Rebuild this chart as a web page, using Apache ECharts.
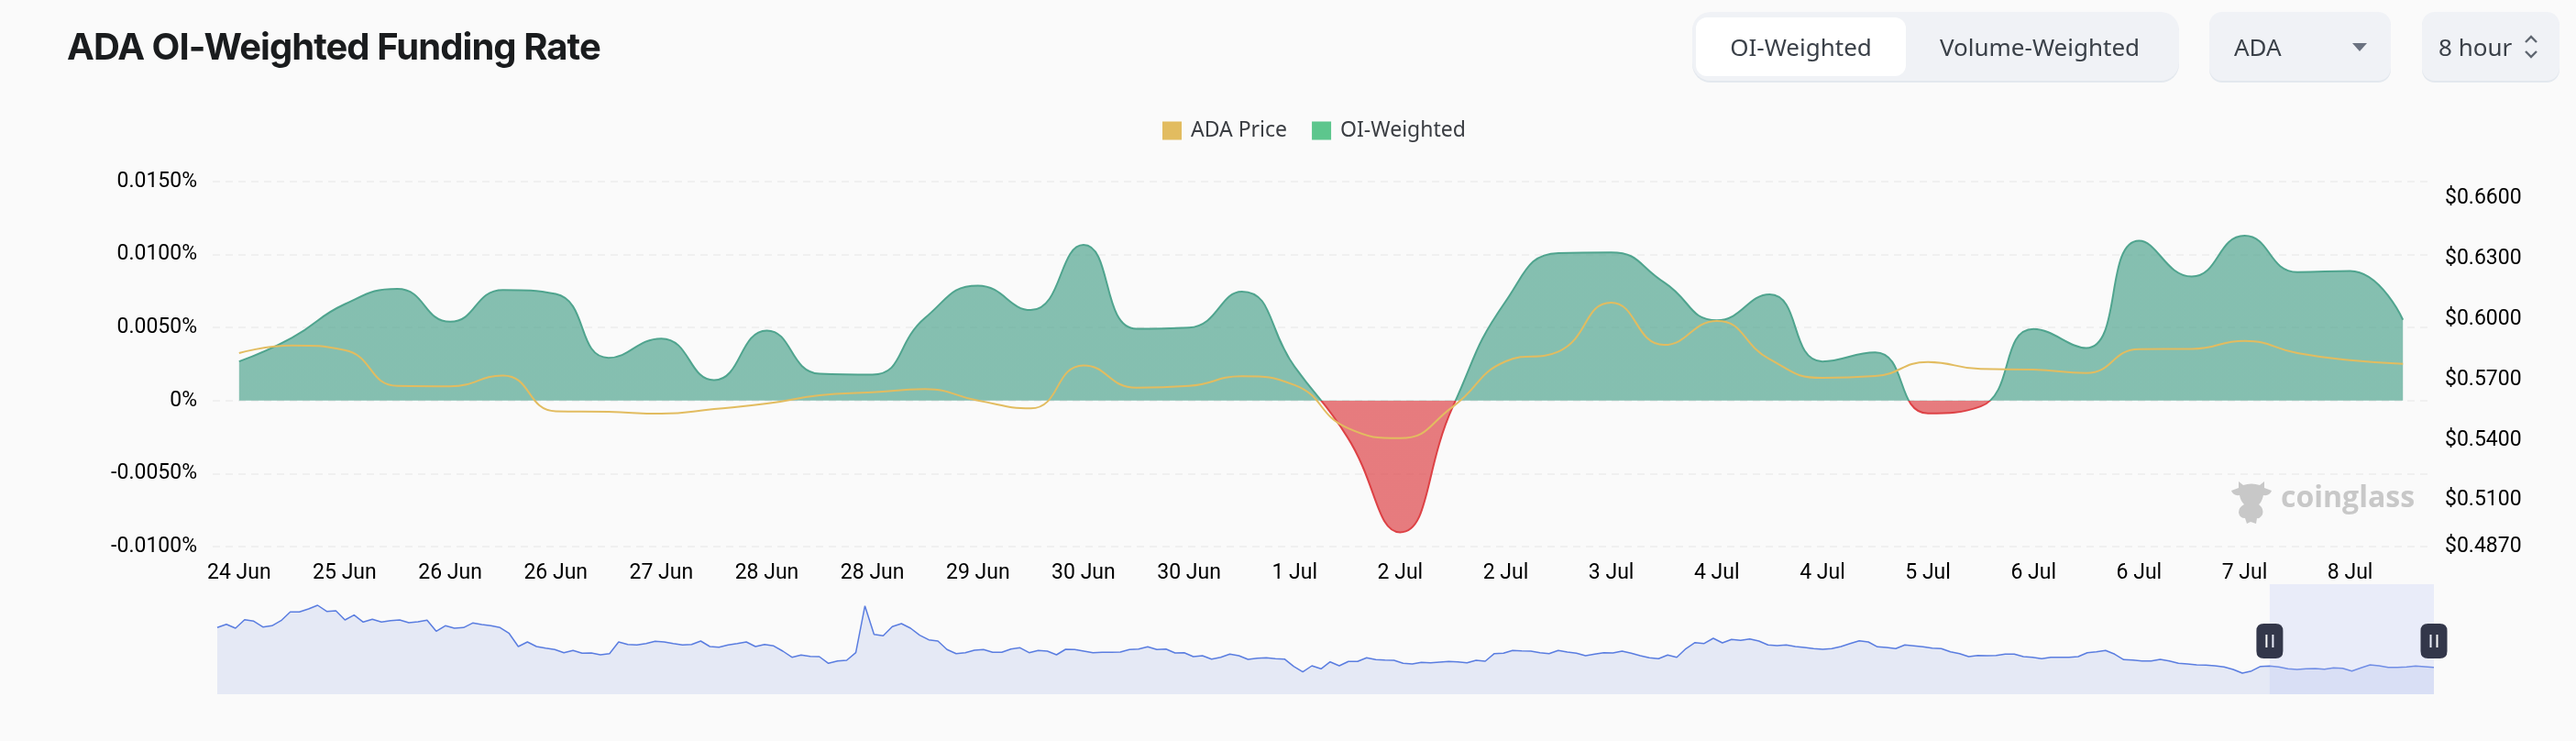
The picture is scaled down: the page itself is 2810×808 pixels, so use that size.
<!DOCTYPE html>
<html>
<head>
<meta charset="utf-8">
<title>ADA OI-Weighted Funding Rate</title>
<script src="https://cdn.jsdelivr.net/npm/echarts@6/dist/echarts.min.js"></script>
<style>
    html, body { margin: 0; padding: 0; background: #fafafa; }
    #page { position: relative; width: 2810px; height: 808px; overflow: hidden; }
    #chart { position: absolute; left: 0; top: 0; width: 2810px; height: 808px; }
    #title { position: absolute; left: 73px; top: 27px; font: 700 40px Inter, sans-serif; letter-spacing: -0.95px; line-height: 48px; color: #1a1c1e; white-space: nowrap; }
    .ctl { position: absolute; box-sizing: border-box; font-family: "Noto Sans", sans-serif; font-size: 26px; color: #3a4048; line-height: 38px; white-space: nowrap; }
    .box { background: #f0f2f6; top: 13px; height: 75px; border-radius: 14px; box-shadow: 0 2px 0 #e3e8ee; }
</style>
</head>
<body>
<div id="page">
    <div id="chart"></div>
    <div id="title">ADA OI-Weighted Funding Rate</div>
    <div class="ctl box" style="left:1846px;width:531px;border-radius:20px"></div>
    <div class="ctl" style="left:1850px;top:19px;width:229px;height:64px;background:#fff;border-radius:12px"></div>
    <div class="ctl" style="left:1850px;top:32px;width:229px;text-align:center">OI-Weighted</div>
    <div class="ctl" style="left:2113px;top:32px;width:224px;text-align:center">Volume-Weighted</div>
    <div class="ctl box" style="left:2410px;width:198px"></div>
    <div class="ctl" style="left:2437px;top:32px">ADA</div>
    <div class="ctl" style="left:2566px;top:47px;width:0;height:0;border-left:8px solid transparent;border-right:8px solid transparent;border-top:9px solid #6b7280"></div>
    <div class="ctl box" style="left:2642px;width:150px"></div>
    <div class="ctl" style="left:2660px;top:32px">8 hour</div>
    <svg class="ctl" style="left:2752px;top:36px" width="18" height="30" viewBox="0 0 18 30"><path d="M3 10 L9 4 L15 10 M3 20 L9 26 L15 20" fill="none" stroke="#5f6670" stroke-width="2.4"/></svg>
    <svg class="ctl" style="left:2434px;top:521px" width="44" height="50" viewBox="0 0 44 50"><path d="M8 4 L13 8 Q22 5 31 8 L36 4 L36 11 L44 14 Q42 20 35 19 Q33 27 30 29 Q36 34 34 40 Q31 45 28 44 L27 50 L21 48 L17 50 L15 44 Q9 44 8 38 Q8 32 14 29 Q10 25 9 19 Q2 20 0 14 L8 11 Z" fill="#c8c8c8"/></svg>
</div>

<script>
const CATEGORIES = [
    '24 Jun', '25 Jun', '25 Jun', '25 Jun', '26 Jun', '26 Jun', '26 Jun', '27 Jun', '27 Jun', '27 Jun',
    '28 Jun', '28 Jun', '28 Jun', '29 Jun', '29 Jun', '29 Jun', '30 Jun', '30 Jun', '30 Jun', '1 Jul',
    '1 Jul', '1 Jul', '2 Jul', '2 Jul', '2 Jul', '3 Jul', '3 Jul', '3 Jul', '4 Jul', '4 Jul',
    '4 Jul', '5 Jul', '5 Jul', '5 Jul', '6 Jul', '6 Jul', '6 Jul', '7 Jul', '7 Jul', '7 Jul',
    '8 Jul', '8 Jul'
];

// percent, 8 hour funding
const OI_WEIGHTED = [
    0.00268, 0.0043, 0.0066, 0.00765, 0.0054, 0.00758, 0.0073, 0.00293, 0.00425, 0.0014,
    0.0048, 0.00184, 0.00178, 0.00567, 0.00787, 0.0062, 0.01066, 0.00492, 0.005, 0.00747,
    0.00232, -0.0025, -0.00902, -0.0004, 0.0068, 0.0101, 0.01015, 0.0081, 0.0055, 0.00727,
    0.00268, 0.0033, -0.00088, -0.0004, 0.0049, 0.0036, 0.01095, 0.0085, 0.01129, 0.0088,
    0.00888, 0.00553
];

const ADA_PRICE = [
    0.5832, 0.587, 0.5847, 0.5669, 0.5667, 0.5721, 0.5543, 0.554, 0.5531, 0.5554,
    0.5581, 0.5622, 0.5637, 0.5653, 0.5596, 0.5557, 0.5771, 0.566, 0.5669, 0.5717,
    0.5673, 0.546, 0.5409, 0.5566, 0.5791, 0.584, 0.6083, 0.5873, 0.5992, 0.5802,
    0.5709, 0.5718, 0.5788, 0.5753, 0.575, 0.5733, 0.5852, 0.5853, 0.5893, 0.5832,
    0.5797, 0.5779
];

const RATE_TICKS = { min: -0.01, max: 0.015, interval: 0.005 };
const PRICE_TICKS = [0.487, 0.51, 0.54, 0.57, 0.6, 0.63, 0.66];

// long history behind the range slider, relative height
const OVERVIEW = [
    72.7, 76.3, 72, 81.3, 79.7, 73.3, 74.7, 80.3, 89.7, 89.7, 93, 97, 90.3, 91, 81, 86.3, 78.7, 81.7, 78.7, 80.3,
    81, 78, 79, 80.7, 68.7, 74.7, 72, 72.7, 77.7, 76, 74.7, 72.7, 66.3, 52, 57, 52, 50.3, 48.7, 45.3, 47.7,
    44.7, 45, 43, 44.3, 57, 54.3, 53.7, 55.3, 57.7, 57, 55.3, 53.7, 54.3, 58, 52, 51.3, 53.7, 55.3, 57, 52,
    54.3, 52.7, 47, 40.3, 42.7, 41.3, 41, 33.7, 36.3, 37, 45.3, 96.3, 65.3, 63.7, 73.7, 77, 72, 64.3,
    59.3, 58, 48.7, 44.3, 45.3, 48, 48.7, 45.7, 45.7, 49.3, 50.7, 45.3, 47.7, 47, 43, 49, 48.7, 47, 45.3, 45.7,
    45.7, 46, 48.7, 49.3, 51.7, 48.7, 49.3, 45, 45.3, 41, 42, 38.3, 40.3, 43.7, 42, 38, 39.3, 39.7, 38.7, 38.3,
    30.3, 24.3, 31, 27.7, 35.3, 31, 35.7, 35.7, 39.7, 37.7, 37.3, 37, 33.7, 33, 34.7, 34.3, 35, 35.7, 35.3, 34.3,
    37, 36, 44.3, 44.7, 47.7, 47.3, 47, 45.3, 44.3, 47.7, 46, 44.7, 42, 43.7, 45.3, 45, 47, 44.7, 42,
    39.7, 38.7, 42.7, 40.3, 49.7, 56.3, 55.3, 61, 56, 59.7, 58.7, 60.3, 58, 53.7, 53, 53.7, 52, 51, 49.7, 49,
    49.7, 52, 55.3, 58.3, 57, 51.7, 51, 49.7, 53.7, 52.7, 51.7, 50.3, 49.7, 46.3, 44.3, 41, 42.3, 42, 42.3, 43.7,
    43.7, 41, 40.3, 38.7, 40.3, 40.3, 40.3, 41, 45.3, 46.3, 47.7, 43.7, 37.7, 37.3, 36.3, 36.3, 38, 36.3, 33.7, 33,
    32, 31.7, 31, 29.7, 27, 23, 25.3, 30.3, 30.7, 29.7, 27.7, 27, 27.7, 28, 27.3, 28.7, 28.3, 25.3, 28.7, 32,
    31, 29.3, 29.3, 29.7, 30.7, 30, 29.3
];
const OVERVIEW_WINDOW_START = 225;
const HANDLE_LEVEL = 58;

const AXIS_FONT = 'Roboto, sans-serif';
const HANDLE_PATH = 'path://M0 8 Q0 0 8 0 H21 Q29 0 29 8 V30 Q29 38 21 38 H8 Q0 38 0 30 Z M10 12 V26 H12 V12 Z M17 12 V26 H19 V12 Z';

function rate_label(value) {
    if (Math.abs(value) < 1e-9) {
        return '0%';
    }
    return value.toFixed(4) + '%';
}

const overviewIndex = OVERVIEW.map(function (v, i) { return i; });
const overviewLast = OVERVIEW.length - 1;

const myChart = echarts.init(document.getElementById('chart'));

const option = {
    animation: false,
    backgroundColor: '#fafafa',
    legend: {
        left: 1263,
        top: 126,
        icon: 'rect',
        itemWidth: 21,
        itemHeight: 20,
        itemGap: 27,
        textStyle: { fontFamily: '"Noto Sans", sans-serif', fontSize: 23, color: '#3a3d42', padding: [0, 0, 0, 5] },
        data: [
            { name: 'ADA Price', itemStyle: { color: '#e2bc60' } },
            { name: 'OI-Weighted', itemStyle: { color: '#5dc68d' } }
        ]
    },
    grid: [
        { left: 232, right: 160, top: 198, height: 398 },
        { left: 237, right: 155, top: 637, height: 120 }
    ],
    xAxis: [
        {
            type: 'category',
            gridIndex: 0,
            data: CATEGORIES,
            boundaryGap: true,
            axisLine: { show: false },
            axisTick: { show: false },
            axisLabel: { interval: 1, margin: 18, color: '#000', fontFamily: AXIS_FONT, fontSize: 23 }
        },
        {
            type: 'category',
            gridIndex: 1,
            data: overviewIndex,
            boundaryGap: false,
            show: false
        }
    ],
    yAxis: [
        {
            type: 'value',
            gridIndex: 0,
            min: RATE_TICKS.min,
            max: RATE_TICKS.max,
            interval: RATE_TICKS.interval,
            axisLine: { show: false },
            axisTick: { show: false },
            axisLabel: {
                margin: 17,
                color: '#000',
                fontFamily: AXIS_FONT,
                fontSize: 23,
                padding: [0, 0, 4, 0],
                formatter: rate_label
            },
            splitLine: { lineStyle: { color: '#f0f0f0', width: 2, type: [8, 6] } }
        },
        {
            type: 'value',
            gridIndex: 0,
            position: 'right',
            min: 0.487,
            max: 0.6685,
            axisLine: { show: false },
            axisTick: { show: false },
            splitLine: { show: false },
            axisLabel: {
                customValues: PRICE_TICKS,
                margin: 17,
                color: '#000',
                fontFamily: AXIS_FONT,
                fontSize: 23,
                formatter: function (value) {
                    return '$' + value.toFixed(4);
                }
            }
        },
        {
            type: 'value',
            gridIndex: 1,
            min: 0,
            max: 120,
            show: false
        }
    ],
    visualMap: {
        show: false,
        seriesIndex: 1,
        dimension: 1,
        pieces: [
            { gte: -1, lte: 0, color: '#dd4145' },
            { gt: 0, lte: 1, color: '#4fa48e' }
        ]
    },
    series: [
        {
            name: 'ADA Price',
            type: 'line',
            xAxisIndex: 0,
            yAxisIndex: 1,
            data: ADA_PRICE,
            smooth: true,
            symbol: 'none',
            z: 5,
            lineStyle: { color: '#e2bc60', width: 2 },
            itemStyle: { color: '#e2bc60' }
        },
        {
            name: 'OI-Weighted',
            type: 'line',
            xAxisIndex: 0,
            yAxisIndex: 0,
            data: OI_WEIGHTED,
            smooth: true,
            symbol: 'none',
            z: 3,
            lineStyle: { width: 2 },
            areaStyle: { opacity: 0.685 }
        },
        {
            name: 'Overview',
            type: 'line',
            xAxisIndex: 1,
            yAxisIndex: 2,
            data: OVERVIEW,
            symbol: 'none',
            lineStyle: { color: '#5a7de0', width: 1.5 },
            itemStyle: { color: '#5a7de0' },
            areaStyle: { color: '#e5e9f5', opacity: 1 },
            markArea: {
                silent: true,
                z: 4,
                itemStyle: { color: 'rgba(182,194,246,0.25)' },
                data: [[{ xAxis: OVERVIEW_WINDOW_START }, { xAxis: overviewLast }]]
            },
            markPoint: {
                silent: true,
                z: 6,
                symbol: HANDLE_PATH,
                symbolSize: [29, 38],
                itemStyle: { color: '#33374a' },
                label: { show: false },
                data: [
                    { coord: [OVERVIEW_WINDOW_START, HANDLE_LEVEL] },
                    { coord: [overviewLast, HANDLE_LEVEL] }
                ]
            }
        }
    ],
    graphic: [
        {
            type: 'text',
            left: 2488,
            top: 528,
            style: { text: 'coinglass', fill: '#c8c8c8', font: '700 32px "Open Sans", sans-serif' }
        }
    ]
};

myChart.setOption(option);
</script>
</body>
</html>
